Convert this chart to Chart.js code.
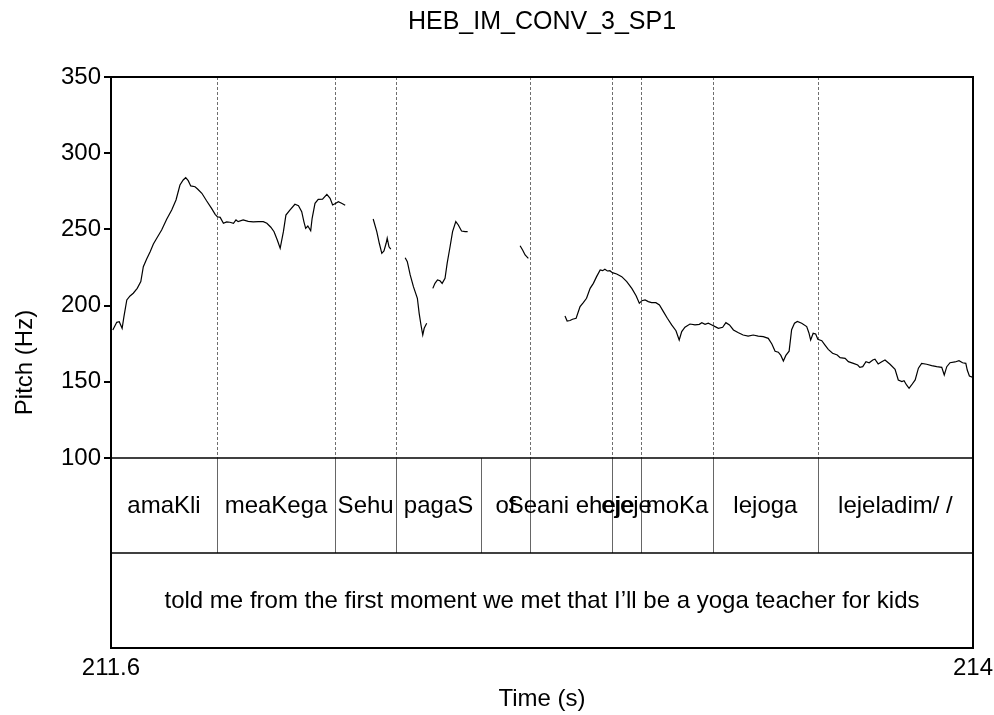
<!DOCTYPE html>
<html>
<head>
<meta charset="utf-8">
<script src="https://cdn.jsdelivr.net/npm/chart.js@4.4.1/dist/chart.umd.min.js"></script>
<style>
  html, body { margin: 0; padding: 0; background: #fff; }
</style>
</head>
<body>
<canvas id="pitchChart" width="994" height="715"></canvas>
<script>
// Pitch track (time in s, pitch in Hz); null marks an unvoiced gap
const pitchTime = [
  211.605, 211.616, 211.623, 211.631, 211.636, 211.644, 211.653, 211.662, 211.673, 211.683, 211.690, 211.699, 211.709, 211.718, 211.729, 211.741, 211.755, 211.769, 211.781, 211.792, 211.801, 211.808, 211.815, 211.822, 211.834, 211.841, 211.853, 211.866, 211.880, 211.890, 211.896, 211.904, 211.913, 211.922, 211.931, 211.941, 211.948, 211.954, 211.968, 211.982, 211.996, 212.010, 212.024, 212.034, 212.045, 212.054, 212.063, 212.071, 212.080, 212.087, 212.098, 212.112, 212.122, 212.131, 212.137, 212.142, 212.148, 212.156, 212.160, 212.168, 212.177, 212.189, 212.201, 212.210, 212.217, 212.226, 212.233, 212.242, 212.252,
  212.290,
  212.330, 212.340, 212.347, 212.354, 212.360, 212.366, 212.369, 212.374, 212.379,
  212.400,
  212.419, 212.425, 212.433, 212.442, 212.453, 212.458, 212.463, 212.468, 212.472, 212.479,
  212.488,
  212.496, 212.502, 212.509, 212.516, 212.522, 212.530, 212.536, 212.544, 212.551, 212.560, 212.567, 212.576, 212.586, 212.593,
  212.660,
  212.739, 212.746, 212.753, 212.762,
  212.810,
  212.864, 212.870, 212.878, 212.885, 212.895, 212.906, 212.915, 212.924, 212.934, 212.943,
  212.952, 212.962, 212.969, 212.975, 212.982, 212.989, 212.996, 213.008, 213.022, 213.036,
  213.050, 213.062, 213.071, 213.078, 213.087, 213.096, 213.105, 213.117, 213.127, 213.138,
  213.149, 213.161, 213.173, 213.182, 213.189, 213.198, 213.212, 213.226, 213.238, 213.245,
  213.254, 213.263, 213.273, 213.282, 213.291, 213.303, 213.312, 213.322, 213.333, 213.347,
  213.360, 213.374, 213.388, 213.402, 213.416, 213.430, 213.440, 213.449, 213.458, 213.465,
  213.472, 213.479, 213.488, 213.495, 213.503, 213.511, 213.523, 213.537, 213.543, 213.548,
  213.555, 213.562, 213.568, 213.579, 213.588, 213.597, 213.609, 213.622, 213.630, 213.644,
  213.653, 213.667, 213.679, 213.685, 213.693, 213.702, 213.711, 213.721, 213.727, 213.736,
  213.746, 213.755, 213.769, 213.783, 213.792, 213.802, 213.808, 213.815, 213.822, 213.829,
  213.839, 213.848, 213.857, 213.871, 213.885, 213.899, 213.913, 213.920, 213.927, 213.936,
  213.950, 213.961, 213.971, 213.980, 213.984, 213.990, 214.000
];
const pitchHz = [
  184.0, 189.0, 189.4, 185.1, 192.7, 203.7, 206.3, 208.1, 211.3, 215.7, 225.5, 230.4, 235.4, 240.4, 244.8, 249.6, 256.6, 262.7, 269.3, 279.1, 282.4, 283.9, 282.0, 278.5, 278.0, 276.5, 273.7, 268.8, 263.8, 259.9, 258.3, 257.9, 254.0, 254.9, 254.7, 254.0, 256.2, 255.1, 256.2, 255.3, 254.9, 255.1, 255.1, 254.0, 251.4, 248.5, 243.0, 237.6, 248.5, 259.4, 262.7, 266.5, 265.6, 261.6, 255.1, 250.7, 252.2, 249.1, 257.3, 267.1, 269.7, 269.9, 273.0, 270.4, 266.0, 267.1, 268.2, 267.1, 265.8,
  null,
  256.8, 248.5, 240.9, 234.3, 235.8, 240.9, 244.2, 238.6, 237.1,
  null,
  231.4, 228.8, 220.1, 212.4, 204.8, 194.9, 187.3, 180.7, 185.1, 188.4,
  null,
  211.3, 214.6, 216.8, 216.3, 214.6, 217.9, 227.8, 238.6, 248.5, 255.1, 252.9, 248.9, 248.5, 248.5,
  null,
  239.3, 236.5, 233.2, 231.0,
  null,
  193.2, 189.9, 190.2, 191.0, 191.7, 199.3, 201.9, 204.8, 211.3, 214.6,
  219.0, 223.4, 222.9, 223.8, 222.7, 222.9, 221.6, 220.7, 219.0, 215.7,
  211.3, 206.5, 201.5, 203.2, 203.7, 202.6, 201.9, 201.9, 200.4, 196.0,
  191.7, 187.3, 183.5, 177.4, 182.9, 185.8, 187.9, 187.3, 187.7, 188.8,
  187.7, 188.4, 187.3, 186.2, 185.1, 185.8, 188.8, 187.3, 184.0, 182.2,
  180.7, 180.0, 180.7, 180.0, 179.6, 178.5, 174.8, 170.0, 169.4, 167.3,
  163.6, 167.3, 170.1, 184.2, 188.4, 189.6, 188.4, 186.2, 182.2, 177.4,
  181.8, 181.4, 177.9, 177.0, 174.1, 171.3, 168.7, 167.6, 165.8, 165.4,
  163.2, 162.1, 161.0, 159.5, 159.9, 163.2, 162.5, 164.3, 164.8, 161.7,
  163.2, 164.3, 161.5, 158.2, 151.2, 150.1, 150.7, 147.9, 145.7, 147.9,
  151.2, 158.9, 162.1, 161.5, 160.6, 159.9, 159.5, 154.5, 159.9, 162.5,
  163.0, 163.8, 162.5, 162.1, 157.7, 153.8, 152.8
];

// Word tier: interval boundaries (s) and labels
const wordBounds = [211.6, 211.895, 212.224, 212.394, 212.630, 212.767, 212.995, 213.076, 213.276, 213.568, 214.0];
const wordLabels = ['amaKli', 'meaKega', 'Sehu', 'pagaS', 'of', 'Seani eheje', 'ejeje', 'moKa', 'lejoga', 'lejeladim/ /'];
// Boundaries also marked over the pitch track
const markTimes = [211.895, 212.224, 212.394, 212.767, 212.995, 213.076, 213.276, 213.568];

// Translation tier
const phraseBounds = [211.6, 214.0];
const phraseLabels = ['told me from the first moment we met that I\u2019ll be a yoga teacher for kids'];

const xTicks = [211.6, 214];
const yTicks = [100, 150, 200, 250, 300, 350];
const chartTitle = 'HEB_IM_CONV_3_SP1';

const FONT = "'Liberation Sans', Arial, sans-serif";
const pitchFloor = 100;
const pitchCeil = 350;
const tierSpan = 124.7; // room below the pitch floor for the two tiers, in Hz units

const tierPlugin = {
  id: 'tiers',
  beforeDatasetsDraw(chart) {
    const { ctx, chartArea: a, scales: { x, y } } = chart;
    const floorY = y.getPixelForValue(pitchFloor);
    ctx.save();
    ctx.strokeStyle = '#6e6e6e';
    ctx.lineWidth = 1;
    ctx.setLineDash([3, 2]);
    markTimes.forEach(t => {
      const px = Math.round(x.getPixelForValue(t)) + 0.5;
      ctx.beginPath();
      ctx.moveTo(px, a.top);
      ctx.lineTo(px, floorY);
      ctx.stroke();
    });
    ctx.restore();
  },
  afterDatasetsDraw(chart) {
    const { ctx, chartArea: a, scales: { x, y } } = chart;
    const floorY = Math.round(y.getPixelForValue(pitchFloor));
    const midY = Math.round(y.getPixelForValue(pitchFloor - tierSpan / 2));
    const tiers = [
      { bounds: wordBounds, labels: wordLabels, top: floorY, bottom: midY },
      { bounds: phraseBounds, labels: phraseLabels, top: midY, bottom: a.bottom }
    ];
    ctx.save();
    ctx.font = '24px ' + FONT;
    ctx.fillStyle = '#000';
    ctx.textAlign = 'center';
    ctx.textBaseline = 'middle';
    tiers.forEach(tier => {
      ctx.strokeStyle = '#666';
      ctx.lineWidth = 1;
      for (let i = 1; i < tier.bounds.length - 1; i++) {
        const px = Math.round(x.getPixelForValue(tier.bounds[i])) + 0.5;
        ctx.beginPath();
        ctx.moveTo(px, tier.top);
        ctx.lineTo(px, tier.bottom);
        ctx.stroke();
      }
      tier.labels.forEach((lab, i) => {
        const cx = (x.getPixelForValue(tier.bounds[i]) + x.getPixelForValue(tier.bounds[i + 1])) / 2;
        ctx.fillText(lab, cx, (tier.top + tier.bottom) / 2 + 1);
      });
    });
    // frame and tier separators
    ctx.strokeStyle = '#000';
    ctx.lineWidth = 2;
    ctx.strokeRect(a.left, a.top, a.right - a.left, a.bottom - a.top);
    [floorY, midY].forEach(py => {
      ctx.lineWidth = 1.5;
      ctx.beginPath();
      ctx.moveTo(a.left, py);
      ctx.lineTo(a.right, py);
      ctx.stroke();
    });
    // title, centred over the plot
    ctx.font = '25px ' + FONT;
    ctx.fillText(chartTitle, (a.left + a.right) / 2, 22);
    // y axis title
    ctx.font = '24px ' + FONT;
    ctx.translate(25, (a.top + a.bottom) / 2);
    ctx.rotate(-Math.PI / 2);
    ctx.fillText('Pitch (Hz)', 0, 0);
    ctx.restore();
  }
};

const ctx = document.getElementById('pitchChart').getContext('2d');
const pitchChart = new Chart(ctx, {
  type: 'line',
  data: {
    datasets: [{
      data: pitchTime.map((t, i) => ({ x: t, y: pitchHz[i] })),
      borderColor: '#000',
      borderWidth: 1.2,
      pointRadius: 0,
      tension: 0,
      spanGaps: false,
      fill: false
    }]
  },
  options: {
    responsive: false,
    animation: false,
    layout: { padding: { left: 0, right: 21, top: 77, bottom: 0 } },
    plugins: {
      legend: { display: false },
      tooltip: { enabled: false },
      title: { display: false }
    },
    scales: {
      x: {
        type: 'linear',
        min: xTicks[0],
        max: xTicks[xTicks.length - 1],
        afterBuildTicks: s => { s.ticks = xTicks.map(v => ({ value: v })); },
        afterFit: s => { s.height = 67; s.paddingLeft = 0; s.paddingRight = 0; },
        grid: { display: false, drawTicks: false },
        border: { display: false },
        ticks: {
          autoSkip: false,
          maxRotation: 0,
          padding: 6,
          color: '#000',
          font: { family: FONT, size: 24 },
          callback: v => String(v)
        },
        title: {
          display: true,
          text: 'Time (s)',
          color: '#000',
          font: { family: FONT, size: 24 },
          padding: { top: 0, bottom: 1 }
        }
      },
      y: {
        min: pitchFloor - tierSpan,
        max: pitchCeil,
        afterBuildTicks: s => { s.ticks = yTicks.map(v => ({ value: v })); },
        afterFit: s => { s.width = 111; },
        grid: { drawOnChartArea: false, drawTicks: true, tickLength: 7, color: '#000', lineWidth: 2 },
        border: { display: false },
        ticks: {
          padding: 3,
          color: '#000',
          font: { family: FONT, size: 24 }
        }
      }
    }
  },
  plugins: [tierPlugin]
});
</script>
</body>
</html>
